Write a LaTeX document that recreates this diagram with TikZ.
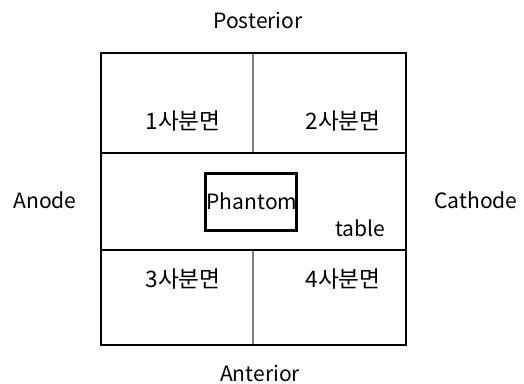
\documentclass[tikz,border=0pt]{standalone}
\usepackage{fontspec}
\setmainfont{Noto Sans CJK KR}
\begin{document}
\begin{tikzpicture}[x=0.75pt,y=-0.75pt,
  lbl/.style={inner sep=0pt,font=\fontsize{15.8}{18}\selectfont},
  klbl/.style={inner sep=0pt,font=\fontsize{17}{19}\selectfont},
  thick box/.style={draw=black,line width=2.2pt},
  thin div/.style={draw=gray,line width=0.8pt}]
\useasboundingbox (0,0) rectangle (524,384);
\coordinate (tl) at (101,53);
\coordinate (br) at (406,345);
\coordinate (m1l) at (101,153); \coordinate (m1r) at (406,153);
\coordinate (m2l) at (101,250); \coordinate (m2r) at (406,250);
\coordinate (vt) at (253,53); \coordinate (vb1) at (253,153);
\coordinate (vt2) at (253,250); \coordinate (vb) at (253,345);
\draw[thin div] (vt) -- (vb1);
\draw[thin div] (vt2) -- (vb);
\draw[thick box] (tl) rectangle (br);
\draw[thick box] (m1l) -- (m1r);
\draw[thick box] (m2l) -- (m2r);
\node[draw=black,line width=1.6pt,minimum width=91*0.75pt,minimum height=57*0.75pt,inner sep=0pt] (ph) at (251,202) {};
\node[lbl] (phl) at (252,201) {Phantom};
\node[lbl] (post) at (258,20) {Posterior};
\node[lbl] (ant) at (260,373) {Anterior};
\node[lbl] (an) at (45,200) {Anode};
\node[lbl] (ca) at (476,200) {Cathode};
\node[klbl] (q1) at (183,121) {1사분면};
\node[klbl] (q2) at (343,121) {2사분면};
\node[klbl] (q3) at (183,279) {3사분면};
\node[klbl] (q4) at (343,279) {4사분면};
\node[lbl] (tb) at (360,228) {table};
\end{tikzpicture}
\end{document}
